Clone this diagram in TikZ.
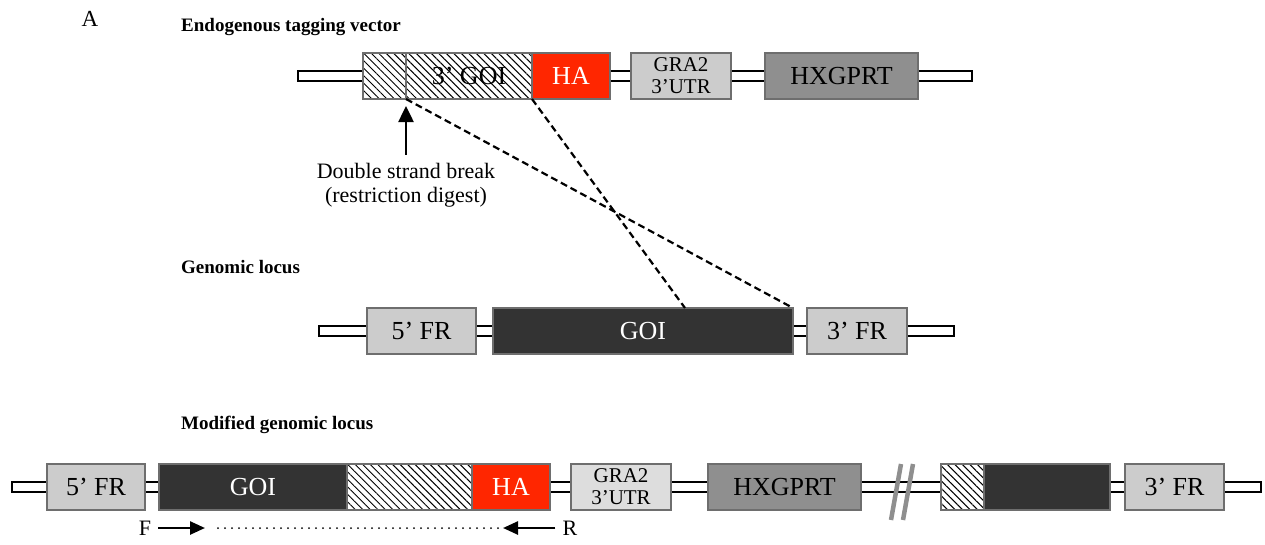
\documentclass[tikz,border=0pt]{standalone}
\usepackage{fontspec}
\setmainfont{Liberation Serif}
\usetikzlibrary{arrows.meta, positioning, patterns.meta}
\definecolor{segEdge}{RGB}{110,110,110}
\definecolor{frGrey}{RGB}{204,204,204}
\definecolor{utrGrey}{RGB}{221,221,221}
\definecolor{selGrey}{RGB}{143,143,143}
\definecolor{goiDark}{RGB}{51,51,51}
\definecolor{haRed}{RGB}{255,38,0}
\tikzset{
    seg/.style={draw=segEdge, line width=1.5pt, minimum height=46pt, inner sep=0pt,
        outer sep=0pt, anchor=west, font=\fontsize{26}{28}\selectfont},
    hatched/.style={seg, preaction={fill=white},
        pattern={Lines[angle=-45, distance=5.3pt, line width=1pt]}},
    backbone/.style={draw=black, fill=white, line width=1.5pt},
    header/.style={anchor=west, inner sep=0pt, font=\bfseries\fontsize{19}{21}\selectfont},
    panel/.style={inner sep=0pt, font=\fontsize{23}{25}\selectfont},
    note/.style={inner sep=2pt, font=\fontsize{22}{24}\selectfont},
    crossover/.style={draw=black, line width=2.2pt, dash pattern=on 7pt off 4pt},
    dsbarrow/.style={-{Triangle[length=16pt, width=15pt]}, line width=2.5pt},
    primer/.style={-{Triangle[length=15pt, width=13pt]}, line width=2.5pt},
    amplicon/.style={line width=2pt, line cap=round, dash pattern=on 0pt off 7pt},
    breakmark/.style={draw=selGrey, line width=4.5pt}
}

\begin{document}
\begin{tikzpicture}[x=1pt, y=-1pt]
\useasboundingbox (0,0) rectangle (1265,544);

% panel letter and headings
\node[panel] (lbl-a) at (90,19) {A};
\node[header] (hd-vec) at (181,27) {Endogenous tagging vector};
\node[header] (hd-gen) at (181,267) {Genomic locus};
\node[header] (hd-mod) at (181,425) {Modified genomic locus};

% endogenous tagging vector
\coordinate (t-left) at (298,76);
\coordinate (t-right) at (972,76);
\draw[backbone] ([yshift=5pt]t-left) rectangle ([yshift=-5pt]t-right);
\node[hatched, minimum width=43pt] (t-cut) at (363,76) {};
\node[hatched, minimum width=126pt, right=0pt of t-cut] (t-goi) {3' GOI};
\node[seg, fill=haRed, text=white, minimum width=78pt, right=0pt of t-goi] (t-ha) {HA};
\node[seg, fill=frGrey, minimum width=100pt, align=center,
      font=\fontsize{21}{22}\selectfont] (t-utr) at (631,76) {GRA2\\3'UTR};
\node[seg, fill=selGrey, minimum width=153pt] (t-hxg) at (765,76) {HXGPRT};

% double strand break
\node[note, align=center] (dsb) at (406,185) {Double strand break\\(restriction digest)};
\draw[dsbarrow] ([yshift=6pt]dsb.north -| t-cut.south east) -- ([yshift=-7pt]t-cut.south east);

% genomic locus
\coordinate (g-left) at (319,331);
\coordinate (g-right) at (954,331);
\draw[backbone] ([yshift=5pt]g-left) rectangle ([yshift=-5pt]g-right);
\node[seg, fill=frGrey, minimum width=109pt] (g-fr5) at (367,331) {5' FR};
\node[seg, fill=goiDark, text=white, minimum width=300pt] (g-goi) at (493,331) {GOI};
\node[seg, fill=frGrey, minimum width=100pt] (g-fr3) at (807,331) {3' FR};

% crossover
\draw[crossover] (t-cut.south east) -- (g-goi.north east);
\draw[crossover] (t-goi.south east) -- ([xshift=-108pt]g-goi.north east);

% modified genomic locus
\coordinate (m-left) at (12,487);
\coordinate (m-right) at (1261,487);
\draw[backbone] ([yshift=5pt]m-left) rectangle ([yshift=-5pt]m-right);
\node[seg, fill=frGrey, minimum width=98pt] (m-fr5) at (47,487) {5' FR};
\node[seg, fill=goiDark, text=white, minimum width=188pt] (m-goi) at (159,487) {GOI};
\node[hatched, minimum width=125pt, right=0pt of m-goi] (m-tag) {};
\node[seg, fill=haRed, text=white, minimum width=78pt, right=0pt of m-tag] (m-ha) {HA};
\node[seg, fill=utrGrey, minimum width=100pt, align=center,
      font=\fontsize{21}{22}\selectfont] (m-utr) at (571,487) {GRA2\\3'UTR};
\node[seg, fill=selGrey, minimum width=153pt] (m-hxg) at (708,487) {HXGPRT};
\draw[breakmark] (891,520) -- (901,464) (903,520) -- (913,464);
\node[hatched, minimum width=43pt] (m-cut) at (941,487) {};
\node[seg, fill=goiDark, minimum width=126pt, right=0pt of m-cut] (m-rest) {};
\node[seg, fill=frGrey, minimum width=99pt] (m-fr3) at (1125,487) {3' FR};

% primers
\node[note, inner sep=7pt] (fwd) at (145,528) {F};
\node[note, inner sep=7pt] (rev) at (570,528) {R};
\coordinate (fwd-tip) at (205,528);
\coordinate (rev-tip) at (503,528);
\draw[primer] (fwd) -- (fwd-tip);
\draw[primer] (rev) -- (rev-tip);
\draw[amplicon, shorten <=13pt, shorten >=4pt] (fwd-tip) -- (rev-tip);
\end{tikzpicture}
\end{document}
